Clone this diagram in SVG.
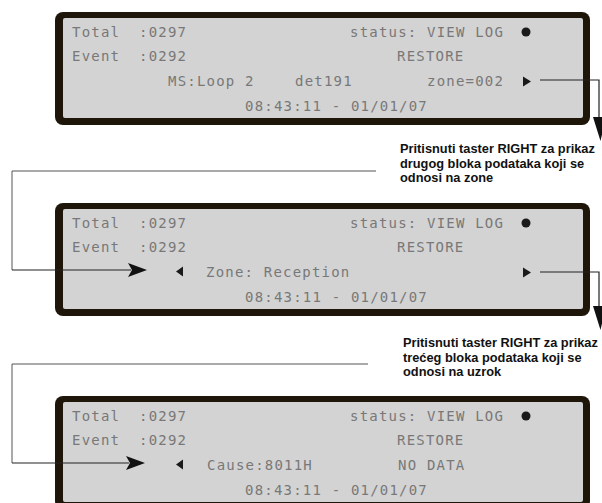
<svg xmlns="http://www.w3.org/2000/svg" width="602" height="503" viewBox="0 0 602 503">
<style>
.outer{fill:#1e1609}
.inner{fill:#d3d3d3}
.lcd{font-family:"DejaVu Sans Mono","Liberation Mono",monospace;font-size:14px;letter-spacing:1.2px;fill:#787878}
.mark{fill:#1a1a1a}
.note{font-family:"Liberation Sans",Arial,sans-serif;font-size:12.8px;font-weight:bold;fill:#111}
.wire{fill:none;stroke:#222;stroke-width:1.2}
.wire2{fill:none;stroke:#555;stroke-width:1}
.head{fill:#111}
</style>
<rect width="602" height="503" fill="#fff"/>

<g id="panel1">
  <rect class="outer" x="55" y="12" width="535" height="113" rx="8"/>
  <rect class="inner" x="63" y="18" width="520" height="100" rx="2"/>
  <text class="lcd" x="72" y="37">Total</text>
  <text class="lcd" x="139" y="37">:0297</text>
  <text class="lcd" x="350" y="37">status: VIEW LOG</text>
  <circle class="mark" cx="526" cy="32" r="4.5"/>
  <text class="lcd" x="72" y="61">Event</text>
  <text class="lcd" x="139" y="61">:0292</text>
  <text class="lcd" x="397" y="61">RESTORE</text>
  <text class="lcd" x="168" y="86">MS:Loop 2</text>
  <text class="lcd" x="295" y="86">det191</text>
  <text class="lcd" x="427" y="86">zone=002</text>
  <polygon class="mark" points="523,76.5 531,81.5 523,86.5"/>
  <text class="lcd" x="245" y="111">08:43:11 - 01/01/07</text>
</g>

<g id="panel2" transform="translate(0,191)">
  <rect class="outer" x="55" y="12" width="535" height="113" rx="8"/>
  <rect class="inner" x="63" y="18" width="520" height="100" rx="2"/>
  <text class="lcd" x="72" y="37">Total</text>
  <text class="lcd" x="139" y="37">:0297</text>
  <text class="lcd" x="350" y="37">status: VIEW LOG</text>
  <circle class="mark" cx="526" cy="32" r="4.5"/>
  <text class="lcd" x="72" y="61">Event</text>
  <text class="lcd" x="139" y="61">:0292</text>
  <text class="lcd" x="397" y="61">RESTORE</text>
  <polygon class="mark" points="183,75.5 176,80.5 183,85.5"/>
  <text class="lcd" x="206" y="86">Zone: Reception</text>
  <polygon class="mark" points="523,76.5 531,81.5 523,86.5"/>
  <text class="lcd" x="245" y="111">08:43:11 - 01/01/07</text>
</g>

<g id="panel3" transform="translate(0,384)">
  <rect class="outer" x="55" y="12" width="535" height="113" rx="8"/>
  <rect class="inner" x="63" y="18" width="520" height="100" rx="2"/>
  <text class="lcd" x="72" y="37">Total</text>
  <text class="lcd" x="139" y="37">:0297</text>
  <text class="lcd" x="350" y="37">status: VIEW LOG</text>
  <circle class="mark" cx="526" cy="32" r="4.5"/>
  <text class="lcd" x="72" y="61">Event</text>
  <text class="lcd" x="139" y="61">:0292</text>
  <text class="lcd" x="397" y="61">RESTORE</text>
  <polygon class="mark" points="183,75.5 176,80.5 183,85.5"/>
  <text class="lcd" x="207" y="86">Cause:8011H</text>
  <text class="lcd" x="398" y="86">NO DATA</text>
  <text class="lcd" x="245" y="111">08:43:11 - 01/01/07</text>
</g>

<g id="note1">
  <text class="note" x="400" y="153">Pritisnuti taster RIGHT za prikaz</text>
  <text class="note" x="400" y="167.5">drugog bloka podataka koji se</text>
  <text class="note" x="400" y="182">odnosi na zone</text>
</g>
<g id="note2">
  <text class="note" x="403" y="347">Pritisnuti taster RIGHT za prikaz</text>
  <text class="note" x="403" y="361.5">trećeg bloka podataka koji se</text>
  <text class="note" x="403" y="376">odnosi na uzrok</text>
</g>

<g id="connectors">
  <polyline class="wire" points="540,80 599,80 599,118"/>
  <polygon class="head" points="593,117 606,117 600.5,141"/>
  <polyline class="wire" points="540,272 599,272 599,307"/>
  <polygon class="head" points="593,306 606,306 600.5,330"/>
  <polyline class="wire2" points="376,171 12,171 12,270"/>
  <polyline class="wire" points="12,270 131,270"/>
  <path class="head" d="M128,263 L147,270 L128,277 L132,270 Z"/>
  <polyline class="wire2" points="368,364 12,364 12,463"/>
  <polyline class="wire" points="12,463 129,463"/>
  <path class="head" d="M126,456 L145,463 L126,470 L130,463 Z"/>
</g>
</svg>
